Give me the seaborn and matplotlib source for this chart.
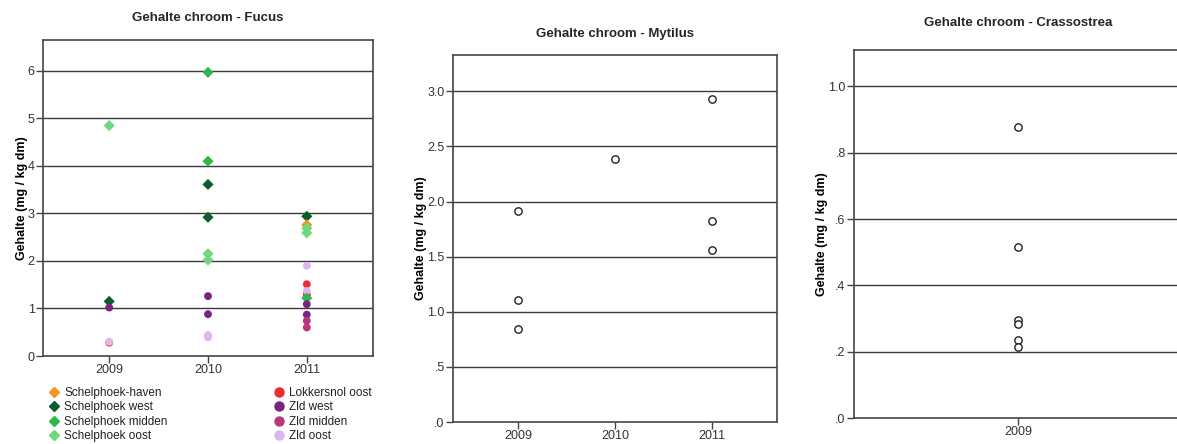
import numpy as np
import pandas as pd
import matplotlib
matplotlib.use("Agg")
import matplotlib.pyplot as plt
import seaborn as sns
from matplotlib.lines import Line2D

sns.set_theme(style="white")
plt.rcParams['font.family'] = ['Liberation Sans', 'DejaVu Sans']

# ---------------- data ----------------
fucus_years = [2009, 2009, 2009, 2009, 2009,
               2010, 2010, 2010, 2010, 2010, 2010, 2010, 2010, 2010, 2010,
               2011, 2011, 2011, 2011, 2011, 2011, 2011, 2011, 2011, 2011, 2011, 2011, 2011]
fucus_values = [0.28, 4.85, 1.15, 1.02, 0.30,
                5.97, 4.10, 3.61, 2.92, 2.15, 2.02, 1.26, 0.88, 0.44, 0.39,
                2.94, 2.76, 2.69, 2.59, 1.90, 1.51, 1.29, 1.37, 1.22, 1.09, 0.87, 0.74, 0.60]
fucus_locs = ["Lokkersnol oost", "Schelphoek oost", "Schelphoek west", "Zld west", "Zld oost",
              "Schelphoek midden", "Schelphoek midden", "Schelphoek west", "Schelphoek west",
              "Schelphoek oost", "Schelphoek oost", "Zld west", "Zld west", "Zld oost", "Zld oost",
              "Schelphoek west", "Schelphoek-haven", "Schelphoek oost", "Schelphoek oost", "Zld oost",
              "Lokkersnol oost", "Lokkersnol oost", "Zld oost", "Schelphoek midden",
              "Zld west", "Zld west", "Zld midden", "Zld midden"]

location_order = ["Schelphoek-haven", "Schelphoek west", "Schelphoek midden", "Schelphoek oost",
                  "Lokkersnol oost", "Zld west", "Zld midden", "Zld oost"]
location_colors = ["#F7941D", "#0D5C2E", "#2EB84C", "#6FD87C",
                   "#EE2B2E", "#7A2381", "#B8397B", "#DDB6EC"]
location_markers = ["D", "D", "D", "D", "o", "o", "o", "o"]

mytilus_years = [2009, 2009, 2009, 2010, 2011, 2011, 2011]
mytilus_values = [1.91, 1.11, 0.84, 2.39, 2.93, 1.82, 1.565]

crasso_years = [2009, 2009, 2009, 2009, 2009, 2009]
crasso_values = [0.878, 0.515, 0.295, 0.285, 0.236, 0.215]

fucus_yticks = [0, 1, 2, 3, 4, 5, 6]
fucus_yticklabels = ["0", "1", "2", "3", "4", "5", "6"]
mytilus_yticks = [0.0, 0.5, 1.0, 1.5, 2.0, 2.5, 3.0]
mytilus_yticklabels = [".0", ".5", "1.0", "1.5", "2.0", "2.5", "3.0"]
crasso_yticks = [0.0, 0.2, 0.4, 0.6, 0.8, 1.0]
crasso_yticklabels = [".0", ".2", ".4", ".6", ".8", "1.0"]

ylabel = "Gehalte (mg / kg dm)"

# ---------------- figure ----------------
W, H = 1177, 444
fig = plt.figure(figsize=(W / 100, H / 100), dpi=100)

def ax_from_px(l, t, r, b):
    return fig.add_axes([l / W, 1 - b / H, (r - l) / W, (b - t) / H])

ax1 = ax_from_px(43, 40, 373, 356)
ax2 = ax_from_px(453, 55, 777, 422)
ax3 = ax_from_px(854, 50, 1182, 418)

frame_col = "#444444"
grid_col = "#3a3a3a"
tick_col = "#333333"

def style_axes(ax, yticks, ylabels, ylim, xlim, xticks):
    ax.set_xlim(*xlim)
    ax.set_ylim(*ylim)
    ax.set_yticks(yticks)
    ax.set_yticklabels(ylabels)
    ax.set_xticks(xticks)
    ax.set_xticklabels([str(x) for x in xticks])
    for s in ax.spines.values():
        s.set_color(frame_col)
        s.set_linewidth(1.2)
    ax.tick_params(axis="both", which="both", direction="out", length=5, width=1,
                   color=frame_col, labelsize=9, labelcolor=tick_col, pad=1,
                   left=True, bottom=True)
    for y in yticks:
        if y > ylim[0]:
            ax.axhline(y, color=grid_col, lw=1.0, zorder=0.5)
    ax.set_xlabel("")
    ax.set_ylabel(ylabel, fontsize=9, fontweight="bold", color="black", labelpad=0)
    ax.set_facecolor("white")

# Fucus
df_f = pd.DataFrame({"jaar": fucus_years, "gehalte": fucus_values, "locatie": fucus_locs})
pal = dict(zip(location_order, location_colors))
mk = dict(zip(location_order, location_markers))
sns.scatterplot(data=df_f, x="jaar", y="gehalte", hue="locatie", style="locatie",
                hue_order=location_order, style_order=location_order,
                palette=pal, markers=mk, s=32, linewidth=0, ax=ax1, legend=False, zorder=3)
style_axes(ax1, fucus_yticks, fucus_yticklabels, (0, 6.65), (2008.33, 2011.67), [2009, 2010, 2011])
ax1.set_title("Gehalte chroom - Fucus", fontsize=9.5, fontweight="bold", pad=14)

# Mytilus
df_m = pd.DataFrame({"jaar": mytilus_years, "gehalte": mytilus_values})
sns.scatterplot(data=df_m, x="jaar", y="gehalte", ax=ax2, s=28, facecolor="white",
                edgecolor="#222222", linewidth=1.0, zorder=3)
style_axes(ax2, mytilus_yticks, mytilus_yticklabels, (0, 3.33), (2008.33, 2011.67), [2009, 2010, 2011])
ax2.set_title("Gehalte chroom - Mytilus", fontsize=9.5, fontweight="bold", pad=13)

# Crassostrea
df_c = pd.DataFrame({"jaar": crasso_years, "gehalte": crasso_values})
sns.scatterplot(data=df_c, x="jaar", y="gehalte", ax=ax3, s=28, facecolor="white",
                edgecolor="#222222", linewidth=1.0, zorder=3)
style_axes(ax3, crasso_yticks, crasso_yticklabels, (0, 1.11), (2008.5, 2009.5), [2009])
ax3.set_title("Gehalte chroom - Crassostrea", fontsize=9.5, fontweight="bold", pad=17)
ax3.spines["right"].set_visible(False)

# Legend for Fucus (two columns)
handles = [Line2D([0], [0], marker=m, color="none", markerfacecolor=c, markeredgecolor=c,
                  markersize=5.5 if m == "D" else 6.5, label=l)
           for l, c, m in zip(location_order, location_colors, location_markers)]
leg_kw = dict(frameon=False, fontsize=8.5, handlelength=0.6, handletextpad=0.6,
              labelspacing=0.2, borderaxespad=0, borderpad=0, labelcolor="#222222")
leg1 = fig.legend(handles=handles[:4], loc="upper left",
                  bbox_to_anchor=(50 / W, 1 - 387 / H), **leg_kw)
leg2 = fig.legend(handles=handles[4:], loc="upper left",
                  bbox_to_anchor=(275 / W, 1 - 387 / H), **leg_kw)

fig.savefig("out.png", dpi=100, facecolor="white")
